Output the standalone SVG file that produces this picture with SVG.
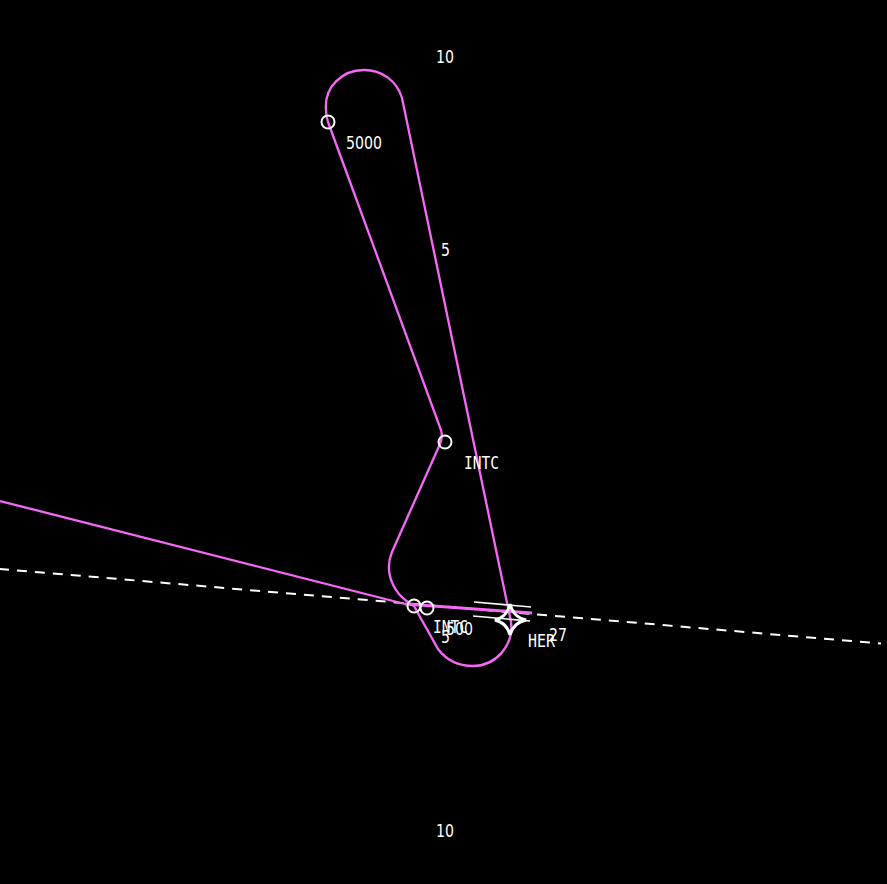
<svg xmlns="http://www.w3.org/2000/svg" width="887" height="884" viewBox="0 0 887 884">
<style>
.t{font-family:"DejaVu Sans","Liberation Sans",sans-serif;font-stretch:condensed;font-size:18.5px;fill:#fff}
.l{font-family:"DejaVu Sans Mono","Liberation Mono",monospace;font-size:18.5px;fill:#fff}
.m{fill:none;stroke:#f768f7;stroke-width:2.3}
.w{fill:none;stroke:#fff;stroke-width:1.7}
.c{fill:none;stroke:#fff;stroke-width:2}
</style>
<rect width="887" height="884" fill="#000"/>
<g id="connectors">
<path id="centerline" d="M0 569L881 643.5" fill="none" stroke="#fff" stroke-width="2" stroke-dasharray="10 8" stroke-dashoffset="1"/>
<path id="inbound" class="m" d="M0 501L405 604"/>
<path id="final" class="m" style="stroke-width:3" d="M405 604L532 613"/>
<path id="holding" class="m" d="M328 122L441 430Q443 437 440 444L392 552C386 566 389 582 399 594Q404 600 414 606L438 649C447 661 460 666 473 666C496 666 514 645 511 622L402 98C397 81 382 70 364 70C342 70 324 87 326 110Q326 116 328 122"/>
</g>
<g id="runway">
<path class="w" d="M474 602L531 607M473 616L530 621"/>
</g>
<g id="airport-HER">
<path d="M510 604Q513 617 526 620Q513 623 510 635Q507 623 495 620Q507 617 510 604Z" fill="none" stroke="#fff" stroke-width="3"/>
<text class="l" x="528" y="647" textLength="27" lengthAdjust="spacingAndGlyphs">HER</text>
</g>
<g id="fix-5000">
<circle class="c" cx="328" cy="122" r="6.5"/>
<text class="t" x="346" y="148.500" textLength="36" lengthAdjust="spacingAndGlyphs">5000</text>
</g>
<g id="fix-intc-upper">
<circle class="c" cx="445" cy="442" r="6.500"/>
<text class="l" x="464" y="468.500" textLength="35" lengthAdjust="spacingAndGlyphs">INTC</text>
</g>
<g id="fix-intc-lower">
<circle class="c" cx="414" cy="606" r="6.500"/>
<text class="l" x="433" y="632.500" textLength="35" lengthAdjust="spacingAndGlyphs">INTC</text>
</g>
<g id="fix-500">
<circle class="c" cx="427" cy="608" r="6.500"/>
<text class="t" x="446" y="634.500" textLength="27" lengthAdjust="spacingAndGlyphs">500</text>
</g>
<g id="labels">
<text class="t" x="436" y="62.500" textLength="18" lengthAdjust="spacingAndGlyphs">10</text>
<text class="t" x="441" y="255.500" textLength="9" lengthAdjust="spacingAndGlyphs">5</text>
<text class="t" x="441" y="642.500" textLength="9" lengthAdjust="spacingAndGlyphs">5</text>
<text class="t" x="436" y="836.500" textLength="18" lengthAdjust="spacingAndGlyphs">10</text>
<text class="t" x="549" y="640.500" textLength="18" lengthAdjust="spacingAndGlyphs">27</text>
</g>
</svg>
